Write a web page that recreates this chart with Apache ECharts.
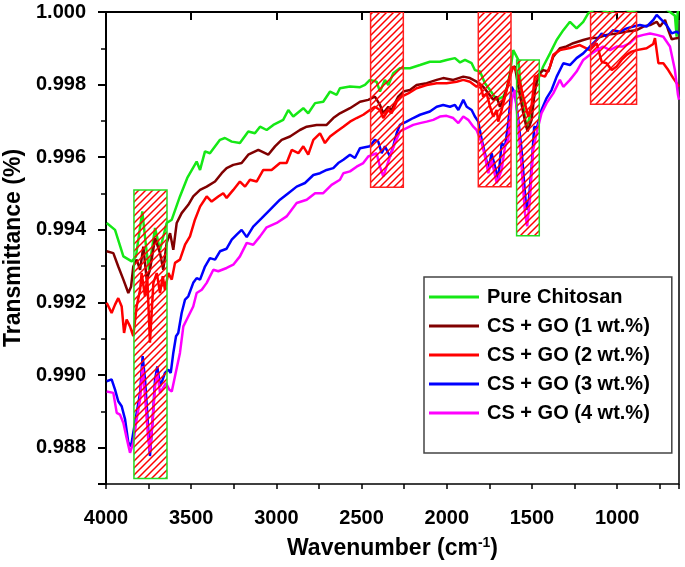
<!DOCTYPE html>
<html>
<head>
<meta charset="utf-8">
<script src="https://cdn.jsdelivr.net/npm/echarts@6/dist/echarts.min.js"></script>
<style>html,body{margin:0;padding:0;background:#fff}#chart{width:685px;height:567px}</style>
</head>
<body>
<div id="chart"></div>
<script>
// ---------- data (wavenumber cm^-1, transmittance) ----------
const seriesNames = ['Pure Chitosan','CS + GO (1 wt.%)','CS + GO (2 wt.%)','CS + GO (3 wt.%)','CS + GO (4 wt.%)'];
const seriesColors = ['#16e816','#800000','#ff0000','#0000ff','#ff00ff'];

const pureChitosan = [[3996,0.99419],[3947,0.99400],[3898,0.99327],[3849,0.99313],[3824,0.99327],[3787,0.99451],[3765,0.99354],[3748,0.99290],[3712,0.99405],[3683,0.99345],[3644,0.99419],[3614,0.99428],[3566,0.99492],[3523,0.99543],[3468,0.99588],[3448,0.99565],[3419,0.99616],[3390,0.99611],[3331,0.99648],[3302,0.99653],[3262,0.99643],[3214,0.99639],[3165,0.99671],[3126,0.99666],[3096,0.99684],[3057,0.99675],[3018,0.99689],[2960,0.99703],[2930,0.99730],[2901,0.99712],[2842,0.99735],[2813,0.99721],[2773,0.99749],[2725,0.99753],[2685,0.99781],[2646,0.99772],[2627,0.99790],[2568,0.99795],[2509,0.99793],[2480,0.99799],[2451,0.99813],[2412,0.99808],[2392,0.99781],[2363,0.99813],[2343,0.99799],[2314,0.99831],[2275,0.99845],[2216,0.99845],[2157,0.99854],[2099,0.99863],[2040,0.99863],[2001,0.99868],[1952,0.99873],[1922,0.99861],[1893,0.99868],[1854,0.99859],[1835,0.99840],[1805,0.99836],[1776,0.99804],[1746,0.99785],[1707,0.99758],[1668,0.99767],[1649,0.99785],[1629,0.99831],[1610,0.99895],[1600,0.99900],[1580,0.99868],[1561,0.99772],[1532,0.99681],[1502,0.99730],[1473,0.99804],[1434,0.99850],[1394,0.99886],[1355,0.99923],[1316,0.99950],[1277,0.99973],[1238,0.99955],[1199,0.99973],[1170,0.99996],[1120,1.00011],[1042,0.99997],[984,1.00017],[925,1.00000],[846,1.00011],[749,1.00020],[690,1.00000],[661,0.99990],[651,0.99932],[645,1.00000],[637,1.00000]];

const csGo1 = [[3996,0.99341],[3957,0.99336],[3928,0.99299],[3898,0.99263],[3869,0.99226],[3853,0.99243],[3840,0.99299],[3820,0.99318],[3800,0.99290],[3781,0.99354],[3761,0.99263],[3742,0.99290],[3712,0.99377],[3683,0.99336],[3664,0.99290],[3644,0.99364],[3624,0.99391],[3605,0.99345],[3585,0.99419],[3556,0.99446],[3517,0.99469],[3488,0.99492],[3448,0.99510],[3409,0.99519],[3360,0.99533],[3321,0.99556],[3292,0.99570],[3253,0.99579],[3204,0.99584],[3165,0.99607],[3106,0.99620],[3048,0.99607],[3008,0.99630],[2969,0.99648],[2920,0.99657],[2862,0.99675],[2822,0.99684],[2764,0.99689],[2705,0.99689],[2666,0.99708],[2627,0.99721],[2568,0.99735],[2509,0.99753],[2461,0.99758],[2422,0.99767],[2392,0.99744],[2373,0.99721],[2343,0.99739],[2324,0.99730],[2285,0.99767],[2255,0.99781],[2216,0.99785],[2177,0.99799],[2118,0.99804],[2059,0.99813],[2021,0.99818],[1962,0.99813],[1903,0.99822],[1864,0.99818],[1825,0.99808],[1786,0.99794],[1756,0.99776],[1727,0.99758],[1707,0.99767],[1688,0.99739],[1668,0.99758],[1639,0.99804],[1619,0.99845],[1600,0.99850],[1580,0.99794],[1551,0.99721],[1526,0.99671],[1502,0.99703],[1483,0.99785],[1463,0.99827],[1434,0.99840],[1404,0.99836],[1375,0.99877],[1336,0.99900],[1297,0.99905],[1258,0.99914],[1199,0.99923],[1160,0.99928],[1113,0.99929],[1062,0.99937],[1003,0.99941],[944,0.99946],[886,0.99950],[846,0.99960],[807,0.99964],[768,0.99973],[749,0.99960],[719,0.99978],[700,0.99950],[680,0.99925],[651,0.99928],[637,0.99929]];

const csGo2 = [[3996,0.99199],[3967,0.99171],[3947,0.99194],[3928,0.99212],[3908,0.99189],[3894,0.99116],[3879,0.99153],[3859,0.99134],[3840,0.99107],[3820,0.99189],[3800,0.99235],[3791,0.99281],[3771,0.99217],[3758,0.99272],[3742,0.99089],[3722,0.99254],[3702,0.99281],[3683,0.99226],[3667,0.99272],[3654,0.99235],[3634,0.99281],[3614,0.99263],[3595,0.99309],[3566,0.99318],[3536,0.99359],[3507,0.99382],[3478,0.99428],[3448,0.99464],[3409,0.99492],[3380,0.99478],[3341,0.99492],[3312,0.99501],[3292,0.99488],[3253,0.99510],[3214,0.99533],[3184,0.99519],[3155,0.99538],[3116,0.99533],[3077,0.99565],[3028,0.99565],[2979,0.99584],[2940,0.99584],[2910,0.99620],[2871,0.99611],[2842,0.99630],[2813,0.99607],[2783,0.99648],[2744,0.99666],[2715,0.99639],[2685,0.99657],[2646,0.99671],[2607,0.99684],[2568,0.99698],[2529,0.99708],[2490,0.99717],[2451,0.99730],[2422,0.99739],[2392,0.99730],[2373,0.99708],[2343,0.99730],[2324,0.99721],[2294,0.99753],[2265,0.99767],[2226,0.99776],[2177,0.99790],[2118,0.99799],[2059,0.99804],[2001,0.99804],[1942,0.99808],[1903,0.99813],[1864,0.99808],[1825,0.99794],[1805,0.99804],[1786,0.99767],[1766,0.99776],[1746,0.99739],[1727,0.99712],[1707,0.99730],[1698,0.99698],[1678,0.99730],[1658,0.99767],[1629,0.99822],[1610,0.99850],[1590,0.99836],[1570,0.99804],[1551,0.99767],[1522,0.99712],[1502,0.99744],[1483,0.99822],[1453,0.99827],[1424,0.99822],[1394,0.99850],[1375,0.99882],[1336,0.99895],[1277,0.99901],[1219,0.99909],[1160,0.99895],[1120,0.99914],[1091,0.99863],[1062,0.99859],[1032,0.99840],[1003,0.99850],[974,0.99868],[944,0.99882],[915,0.99891],[886,0.99895],[827,0.99900],[788,0.99912],[778,0.99928],[758,0.99859],[729,0.99859],[700,0.99840],[671,0.99818],[651,0.99804],[637,0.99794]];

const csGo3 = [[3996,0.98983],[3967,0.98988],[3947,0.98960],[3928,0.98928],[3908,0.98914],[3888,0.98878],[3869,0.98814],[3853,0.98804],[3840,0.98841],[3820,0.98896],[3800,0.98951],[3785,0.99052],[3771,0.98988],[3758,0.98896],[3742,0.98777],[3726,0.98878],[3712,0.98988],[3699,0.99024],[3683,0.98969],[3667,0.98988],[3654,0.99006],[3634,0.99015],[3620,0.99006],[3605,0.99061],[3589,0.99107],[3576,0.99116],[3556,0.99171],[3536,0.99208],[3517,0.99217],[3488,0.99254],[3468,0.99267],[3448,0.99263],[3419,0.99299],[3390,0.99322],[3360,0.99318],[3331,0.99341],[3292,0.99348],[3262,0.99373],[3233,0.99387],[3204,0.99400],[3174,0.99380],[3136,0.99409],[3086,0.99432],[3038,0.99455],[2979,0.99483],[2930,0.99501],[2881,0.99519],[2832,0.99529],[2783,0.99551],[2744,0.99556],[2705,0.99565],[2666,0.99570],[2637,0.99584],[2607,0.99593],[2568,0.99607],[2539,0.99598],[2509,0.99625],[2451,0.99630],[2422,0.99648],[2402,0.99643],[2382,0.99611],[2363,0.99630],[2333,0.99602],[2314,0.99630],[2294,0.99666],[2275,0.99689],[2236,0.99698],[2197,0.99708],[2157,0.99717],[2099,0.99726],[2059,0.99739],[2021,0.99744],[1981,0.99739],[1952,0.99744],[1932,0.99730],[1903,0.99758],[1883,0.99739],[1854,0.99730],[1835,0.99712],[1815,0.99698],[1795,0.99648],[1776,0.99611],[1756,0.99565],[1737,0.99611],[1717,0.99574],[1698,0.99538],[1678,0.99639],[1658,0.99630],[1639,0.99694],[1619,0.99794],[1600,0.99776],[1580,0.99703],[1561,0.99620],[1541,0.99501],[1532,0.99455],[1518,0.99483],[1502,0.99574],[1487,0.99684],[1471,0.99681],[1444,0.99730],[1414,0.99763],[1385,0.99785],[1355,0.99822],[1316,0.99859],[1277,0.99854],[1238,0.99873],[1199,0.99886],[1160,0.99905],[1120,0.99923],[1091,0.99941],[1062,0.99932],[1023,0.99950],[984,0.99946],[944,0.99955],[905,0.99960],[866,0.99964],[827,0.99960],[788,0.99978],[768,0.99992],[739,0.99978],[710,0.99964],[680,0.99941],[651,0.99946],[637,0.99941]];

const csGo4 = [[3996,0.98955],[3957,0.98951],[3937,0.98896],[3918,0.98891],[3898,0.98868],[3879,0.98827],[3859,0.98786],[3840,0.98814],[3820,0.98878],[3800,0.98933],[3785,0.99024],[3771,0.98942],[3752,0.98823],[3742,0.98790],[3726,0.98878],[3712,0.98969],[3699,0.99006],[3683,0.98951],[3648,0.98978],[3629,0.98960],[3614,0.98955],[3595,0.98997],[3566,0.99061],[3546,0.99134],[3526,0.99153],[3488,0.99189],[3468,0.99226],[3438,0.99235],[3409,0.99254],[3370,0.99290],[3341,0.99286],[3292,0.99295],[3253,0.99304],[3214,0.99327],[3174,0.99364],[3136,0.99359],[3096,0.99382],[3057,0.99407],[2998,0.99419],[2940,0.99437],[2881,0.99474],[2822,0.99483],[2773,0.99501],[2725,0.99501],[2676,0.99524],[2627,0.99538],[2607,0.99556],[2568,0.99561],[2529,0.99574],[2490,0.99584],[2461,0.99602],[2412,0.99611],[2392,0.99574],[2373,0.99547],[2353,0.99574],[2333,0.99602],[2304,0.99639],[2275,0.99671],[2236,0.99680],[2197,0.99689],[2157,0.99694],[2118,0.99698],[2079,0.99703],[2040,0.99712],[2001,0.99714],[1962,0.99708],[1932,0.99694],[1903,0.99712],[1874,0.99703],[1844,0.99684],[1825,0.99675],[1795,0.99639],[1776,0.99602],[1756,0.99556],[1737,0.99593],[1707,0.99529],[1678,0.99565],[1658,0.99630],[1639,0.99648],[1619,0.99758],[1600,0.99785],[1580,0.99684],[1561,0.99574],[1541,0.99446],[1528,0.99410],[1512,0.99483],[1493,0.99620],[1473,0.99666],[1444,0.99721],[1414,0.99749],[1375,0.99776],[1336,0.99813],[1316,0.99794],[1277,0.99813],[1238,0.99836],[1199,0.99868],[1160,0.99882],[1120,0.99895],[1082,0.99905],[1042,0.99895],[1003,0.99905],[964,0.99905],[925,0.99914],[886,0.99932],[846,0.99937],[807,0.99941],[768,0.99937],[729,0.99932],[690,0.99905],[661,0.99840],[643,0.99772],[637,0.99758]];

const allSeries = [pureChitosan, csGo1, csGo2, csGo3, csGo4];

// highlighted bands: [wavenumber from, wavenumber to, transmittance top, transmittance bottom]
const bandX1 = [3836, 2447, 1815, 1590, 1156];
const bandX2 = [3642, 2255, 1623, 1457, 886];
const bandTop = [0.99510, 1.000, 1.000, 0.99868, 1.000];
const bandBottom = [0.98715, 0.99517, 0.99519, 0.99384, 0.99746];
const bandBorder = ['#22dd22', '#ff2020', '#ff2020', '#22dd22', '#ff2020'];

// axes
const xStart = 4000, xEnd = 637;
const xTickLabels = [4000, 3500, 3000, 2500, 2000, 1500, 1000];
const yTop = 1.000, yBottom = 0.987;
const yTickLabels = ['1.000', '0.998', '0.996', '0.994', '0.992', '0.990', '0.988'];

// ---------- chart ----------
const FONT = 'Liberation Sans, Arial, sans-serif';
const hatch = document.createElement('canvas');
hatch.width = 7; hatch.height = 7;
(function () {
  const c = hatch.getContext('2d');
  c.strokeStyle = '#ff0000'; c.lineWidth = 1.5;
  c.beginPath();
  c.moveTo(-1, 8); c.lineTo(8, -1);
  c.moveTo(-4.5, 4.5); c.lineTo(4.5, -4.5);
  c.moveTo(2.5, 11.5); c.lineTo(11.5, 2.5);
  c.stroke();
})();

const chart = echarts.init(document.getElementById('chart'), null, {renderer: 'canvas'});
const xSpan = xStart - xEnd;
const ySpanK = Math.round((yTop - yBottom) * 1000);

const lineSeries = allSeries.map((d, i) => ({
  name: seriesNames[i], type: 'line', xAxisIndex: 0, yAxisIndex: 0,
  data: d, showSymbol: false, symbol: 'none', clip: true,
  lineStyle: {width: 2.5, color: seriesColors[i]}, itemStyle: {color: seriesColors[i]},
  z: 2 + i
}));

const bandData = bandX1.map((x, i) => [x, bandX2[i], bandTop[i], bandBottom[i]]);

const option = {
  animation: false,
  backgroundColor: '#fff',
  grid: {left: 106, right: 6, top: 12, bottom: 83, containLabel: false, outerBoundsMode: 'none',
         show: true, borderColor: '#000', borderWidth: 1.5, backgroundColor: 'transparent'},
  legend: {
    data: seriesNames, orient: 'vertical', left: 424, top: 277,
    padding: [10, 22, 30, 5], itemGap: 9, itemWidth: 50, itemHeight: 3, icon: 'rect',
    backgroundColor: '#fff', borderColor: '#444', borderWidth: 1.5,
    textStyle: {fontFamily: FONT, fontWeight: 'bold', fontSize: 20, color: '#000', lineHeight: 20, padding: [0, 0, 0, 3]}
  },
  xAxis: [
    {type: 'value', min: xEnd, max: xStart, inverse: true, show: false},
    {type: 'value', min: 0, max: xSpan, interval: 500, position: 'bottom',
     axisLine: {show: true, lineStyle: {color: '#000', width: 2}},
     axisTick: {show: true, length: 8, lineStyle: {color: '#000', width: 2}},
     splitLine: {show: false}, showMaxLabel: false,
     axisLabel: {margin: 24, fontFamily: FONT, fontWeight: 'bold', fontSize: 20, color: '#000',
       formatter: v => xTickLabels.indexOf(xStart - v) >= 0 ? String(xStart - v) : ''},
     name: '{a|Wavenumber (cm}{b|-1}{a|)}', nameLocation: 'middle', nameGap: 52,
     nameTextStyle: {rich: {
       a: {fontFamily: FONT, fontWeight: 'bold', fontSize: 23, color: '#000'},
       b: {fontFamily: FONT, fontWeight: 'bold', fontSize: 14, color: '#000', verticalAlign: 'bottom', padding: [0, 0, 12, 0]}
     }}},
    {type: 'value', min: 0, max: xSpan, interval: 250, position: 'bottom',
     axisLine: {show: false}, axisTick: {show: true, length: 5, lineStyle: {color: '#000', width: 1.5}},
     axisLabel: {show: false}, splitLine: {show: false}}
  ],
  yAxis: [
    {type: 'value', min: yBottom, max: yTop, show: false},
    {type: 'value', min: 0, max: ySpanK, interval: 2, inverse: true, position: 'left',
     axisLine: {show: true, lineStyle: {color: '#000', width: 2}},
     axisTick: {show: true, length: 8, lineStyle: {color: '#000', width: 2}},
     splitLine: {show: false}, showMaxLabel: false,
     axisLabel: {margin: 20, fontFamily: FONT, fontWeight: 'bold', fontSize: 20, color: '#000',
       formatter: k => { const s = (yTop - k / 1000).toFixed(3); return yTickLabels.indexOf(s) >= 0 ? s : ''; }},
     name: 'Transmittance (%)', nameLocation: 'middle', nameGap: 78,
     nameTextStyle: {fontFamily: FONT, fontWeight: 'bold', fontSize: 23, color: '#000'}},
    {type: 'value', min: 0, max: ySpanK, interval: 1, inverse: true, position: 'left',
     axisLine: {show: false}, axisTick: {show: true, length: 5, lineStyle: {color: '#000', width: 1.5}},
     axisLabel: {show: false}, splitLine: {show: false}}
  ],
  series: lineSeries.concat([{
    type: 'custom', xAxisIndex: 0, yAxisIndex: 0, z: 20, clip: true,
    data: bandData,
    encode: {x: [0, 1], y: [2, 3]},
    renderItem: function (params, api) {
      const p1 = api.coord([api.value(0), api.value(2)]);
      const p2 = api.coord([api.value(1), api.value(3)]);
      return {
        type: 'rect',
        shape: {x: Math.min(p1[0], p2[0]), y: Math.min(p1[1], p2[1]), width: Math.abs(p2[0] - p1[0]), height: Math.abs(p2[1] - p1[1])},
        style: {fill: {image: hatch, repeat: 'repeat'}, stroke: bandBorder[params.dataIndex], lineWidth: 1.5}
      };
    }
  }])
};
chart.setOption(option);
</script>
</body>
</html>
